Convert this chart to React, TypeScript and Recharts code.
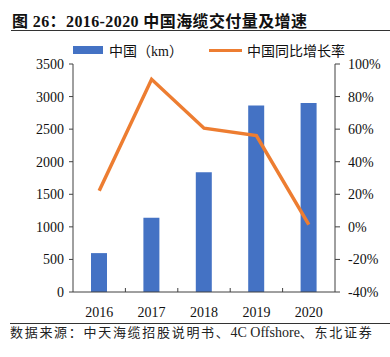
import React from 'react';
import { ComposedChart, Bar, Line, XAxis, YAxis } from 'recharts';

const years = ['2016', '2017', '2018', '2019', '2020'];
const deliveryKm = [597, 1138, 1837, 2862, 2903];
const growthPct = [22.2, 90.6, 60.6, 56.1, 1.4];
const leftTicks = [0, 500, 1000, 1500, 2000, 2500, 3000, 3500];
const rightTicks = [-40, -20, 0, 20, 40, 60, 80, 100];

const barName = '中国（km）';
const lineName = '中国同比增长率';

const BLUE = '#4472C4';
const ORANGE = '#ED7D31';
const AXIS = '#404040';
const FONT = '"Liberation Serif", "Noto Sans CJK SC", serif';

const data = years.map((year, i) => ({ year, km: deliveryKm[i], rate: growthPct[i] }));

// plot area: left 73, right 335 => 5 bands
const HALF_BAND = (335 - 73) / years.length / 2;

const YearTick = (props: any) => {
  const { x, y, payload, index } = props;
  return (
    <g>
      {index > 0 && <line x1={x - HALF_BAND} x2={x - HALF_BAND} y1={y - 4} y2={y} stroke={AXIS} strokeWidth={1} />}
      <text x={x} y={y + 25} textAnchor="middle" fontSize={14} fill="#111" fontFamily={FONT}>
        {payload.value}
      </text>
    </g>
  );
};

export default function App() {
  return (
    <div style={{ position: 'absolute', left: 0, top: 0, width: 390, height: 357, background: '#fff', fontFamily: FONT }}>
      <div style={{ position: 'absolute', left: 12, top: 8, fontSize: 16, fontWeight: 'bold', color: '#111', whiteSpace: 'nowrap', letterSpacing: 0.4 }}>
        图 26：2016-2020 中国海缆交付量及增速
      </div>
      <div style={{ position: 'absolute', left: 11, top: 30, width: 379, height: 1, background: '#333' }} />

      <div style={{ position: 'absolute', left: 73, top: 40, display: 'flex', alignItems: 'center', fontSize: 14, color: '#111', whiteSpace: 'nowrap' }}>
        <span style={{ display: 'inline-block', width: 30, height: 8, background: BLUE, marginRight: 6 }} />
        <span>{barName}</span>
        <span style={{ display: 'inline-block', width: 33, height: 3, background: ORANGE, marginLeft: 26, marginRight: 5 }} />
        <span>{lineName}</span>
      </div>

      <ComposedChart
        width={390}
        height={357}
        data={data}
        margin={{ top: 64, right: 0, left: 0, bottom: 35 }}
        style={{ position: 'absolute', left: 0, top: 0 }}
      >
        <XAxis
          dataKey="year"
          height={30}
          stroke={AXIS}
          tickLine={false}
          tickSize={0}
          tickMargin={0}
          tick={<YearTick />}
          interval={0}
        />
        <YAxis
          yAxisId="left"
          width={73}
          domain={[0, 3500]}
          ticks={leftTicks}
          interval={0}
          stroke={AXIS}
          tickSize={4}
          tickMargin={5}
          tick={{ fill: '#111', fontSize: 14, fontFamily: FONT }}
        />
        <YAxis
          yAxisId="right"
          orientation="right"
          width={55}
          domain={[-40, 100]}
          ticks={rightTicks}
          interval={0}
          stroke={AXIS}
          tickSize={5}
          tickMargin={8}
          tickFormatter={(v: number) => `${v}%`}
          tick={{ fill: '#111', fontSize: 14, fontFamily: FONT }}
        />
        <Bar yAxisId="left" dataKey="km" name={barName} fill={BLUE} barSize={16} isAnimationActive={false} />
        <Line
          yAxisId="right"
          dataKey="rate"
          name={lineName}
          type="linear"
          stroke={ORANGE}
          strokeWidth={3.5}
          dot={false}
          activeDot={false}
          isAnimationActive={false}
        />
      </ComposedChart>

      <div style={{ position: 'absolute', left: 10, top: 323, width: 380, height: 1, background: '#333' }} />
      <div style={{ position: 'absolute', left: 10, top: 326, fontSize: 13, lineHeight: '14px', letterSpacing: 1.7, color: '#222', whiteSpace: 'nowrap' }}>
        数据来源：中天海缆招股说明书、<span style={{ letterSpacing: 0, fontSize: 14 }}>4C Offshore</span>、东北证券
      </div>
    </div>
  );
}
